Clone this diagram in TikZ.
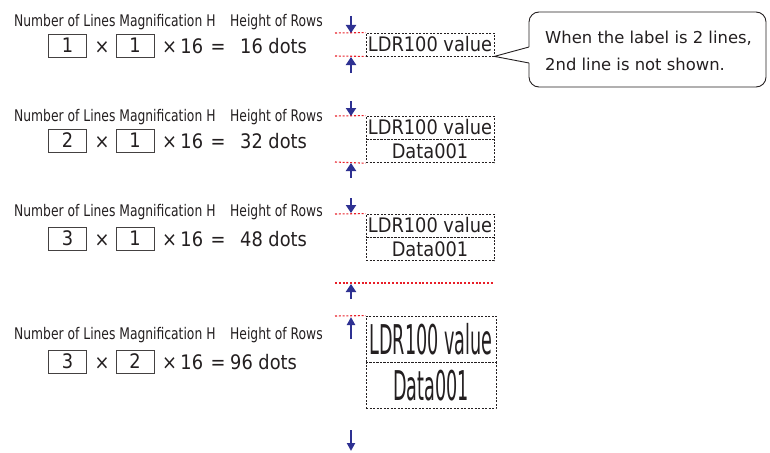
\documentclass[tikz,border=0pt]{standalone}
\usepackage{fontspec}
\setmainfont{DejaVu Sans}
\newfontfamily\hdrfont[FakeStretch=0.77]{DejaVu Sans}
\newfontfamily\rowfont[FakeStretch=0.89]{DejaVu Sans}
\newfontfamily\bigfont[FakeStretch=0.43]{DejaVu Sans}
\usetikzlibrary{arrows.meta}
\definecolor{ink}{RGB}{35,31,32}
\definecolor{navy}{RGB}{46,49,146}
\definecolor{reddot}{RGB}{232,30,40}
\begin{document}
\begin{tikzpicture}[x=1pt,y=-1pt,
  hdr/.style={font=\hdrfont\fontsize{16}{18}\selectfont, text=ink, inner sep=0pt, anchor=base west},
  rowtxt/.style={font=\rowfont\fontsize{20}{22}\selectfont, text=ink, inner sep=0pt},
  numbox/.style={rowtxt, draw=ink!85, line width=0.9pt, minimum width=38pt, minimum height=23pt},
  lbl/.style={rowtxt, draw=ink, dash pattern=on 2pt off 1.5pt, line width=0.8pt, minimum width=128pt, minimum height=23pt},
  biglbl/.style={font=\bigfont\fontsize{41}{44}\selectfont, text=ink, inner sep=0pt, draw=ink, dash pattern=on 2pt off 1.5pt, line width=0.8pt, minimum width=130pt, minimum height=46pt},
  redline/.style={draw=reddot, line width=1.1pt, dash pattern=on 2pt off 1.8pt},
  fatarrow/.style={draw=navy, line width=2.6pt, -{Triangle[width=10pt,length=8pt]}},
  thinarrow/.style={draw=navy, line width=2.2pt, -{Triangle[width=8pt,length=8pt]}},
]
\useasboundingbox (0,0) rectangle (770,452);

% ---------- left side: formulas ----------
% block 1
\node[hdr] (h1a) at (14,27) {Number of Lines Magnification H};
\node[hdr] (h1b) at (230,27) {Height of Rows};
\node[numbox] (n1a) at (67.5,45.5) {1};
\node[rowtxt, anchor=base] (x1a) at (102,53) {×};
\node[numbox] (n1b) at (135,45.5) {1};
\node[rowtxt, anchor=base west] (x1b) at (162,53) {×\,16};
\node[rowtxt, anchor=base] (e1) at (218,53) {=};
\node[rowtxt, anchor=base west] (r1) at (240,53) {16 dots};

% block 2
\node[hdr] (h2a) at (14,121) {Number of Lines Magnification H};
\node[hdr] (h2b) at (230,121) {Height of Rows};
\node[numbox] (n2a) at (67.5,140.5) {2};
\node[rowtxt, anchor=base] (x2a) at (102,148) {×};
\node[numbox] (n2b) at (135,140.5) {1};
\node[rowtxt, anchor=base west] (x2b) at (162,148) {×\,16};
\node[rowtxt, anchor=base] (e2) at (218,148) {=};
\node[rowtxt, anchor=base west] (r2) at (240,148) {32 dots};

% block 3
\node[hdr] (h3a) at (14,216) {Number of Lines Magnification H};
\node[hdr] (h3b) at (230,216) {Height of Rows};
\node[numbox] (n3a) at (67.5,238.5) {3};
\node[rowtxt, anchor=base] (x3a) at (102,246) {×};
\node[numbox] (n3b) at (135,238.5) {1};
\node[rowtxt, anchor=base west] (x3b) at (162,246) {×\,16};
\node[rowtxt, anchor=base] (e3) at (218,246) {=};
\node[rowtxt, anchor=base west] (r3) at (240,246) {48 dots};

% block 4
\node[hdr] (h4a) at (14,339) {Number of Lines Magnification H};
\node[hdr] (h4b) at (230,339) {Height of Rows};
\node[numbox] (n4a) at (67.5,361.5) {3};
\node[rowtxt, anchor=base] (x4a) at (102,369) {×};
\node[numbox] (n4b) at (135,361.5) {2};
\node[rowtxt, anchor=base west] (x4b) at (162,369) {×\,16};
\node[rowtxt, anchor=base] (e4) at (218,369) {=};
\node[rowtxt, anchor=base west] (r4) at (230,369) {96 dots};

% ---------- right side: label previews ----------
% block 1
\node[lbl] (l1) at (430,44.5) {LDR100 value};
\coordinate (r1t) at (335,33);
\coordinate (r1b) at (335,56);
\draw[redline] (r1t) -- (l1.north west);
\draw[redline] (r1b) -- (l1.south west);
\coordinate (a1s) at (351,16); \coordinate (a1e) at (351,33);
\coordinate (b1s) at (351,73); \coordinate (b1e) at (351,57);
\draw[fatarrow] (a1s) -- (a1e);
\draw[fatarrow] (b1s) -- (b1e);

% callout
\node[draw=ink, line width=0.9pt, rounded corners=10pt, minimum width=237pt, minimum height=75pt, inner sep=0pt] (note) at (647.5,49.5) {};
\node[font=\fontsize{16.4}{27}\selectfont, text=ink, align=left, anchor=west, inner sep=0pt] (notetext) at (545,51) {When the label is 2 lines,\\2nd line is not shown.};
\coordinate (p1) at (529,47);
\coordinate (p2) at (529,63);
\draw[white, line width=1.8pt] (p1) -- (p2);
\draw[ink, line width=0.9pt, line join=miter] (p1) -- (l1.south east) -- (p2);

% block 2
\node[lbl] (l2a) at (430,127.5) {LDR100 value};
\node[lbl, anchor=north] (l2b) at (l2a.south) {Data001};
\coordinate (r2t) at (335,116);
\coordinate (r2b) at (335,162);
\draw[redline] (r2t) -- (l2a.north west);
\draw[redline] (r2b) -- (l2b.south west);
\coordinate (a2s) at (351,101); \coordinate (a2e) at (351,116);
\coordinate (b2s) at (351,178); \coordinate (b2e) at (351,163);
\draw[fatarrow] (a2s) -- (a2e);
\draw[fatarrow] (b2s) -- (b2e);

% block 3
\node[lbl] (l3a) at (430,225.5) {LDR100 value};
\node[lbl, anchor=north] (l3b) at (l3a.south) {Data001};
\coordinate (r3t) at (335,214);
\coordinate (r3b) at (335,283);
\coordinate (r3e) at (493,283);
\draw[redline] (r3t) -- (l3a.north west);
\draw[redline] (r3b) -- (r3e);
\coordinate (a3s) at (351,198); \coordinate (a3e) at (351,213);
\coordinate (b3s) at (351,299); \coordinate (b3e) at (351,284);
\draw[fatarrow] (a3s) -- (a3e);
\draw[fatarrow] (b3s) -- (b3e);

% block 4
\node[biglbl] (l4a) at (431,339) {LDR100 value};
\node[biglbl, anchor=north] (l4b) at (l4a.south) {Data001};
\coordinate (r4t) at (335,316);
\draw[redline] (r4t) -- (l4a.north west);
\coordinate (a4s) at (351,339); \coordinate (a4e) at (351,317);
\coordinate (b4s) at (351,430); \coordinate (b4e) at (351,451);
\draw[thinarrow] (a4s) -- (a4e);
\draw[thinarrow] (b4s) -- (b4e);
\end{tikzpicture}
\end{document}
